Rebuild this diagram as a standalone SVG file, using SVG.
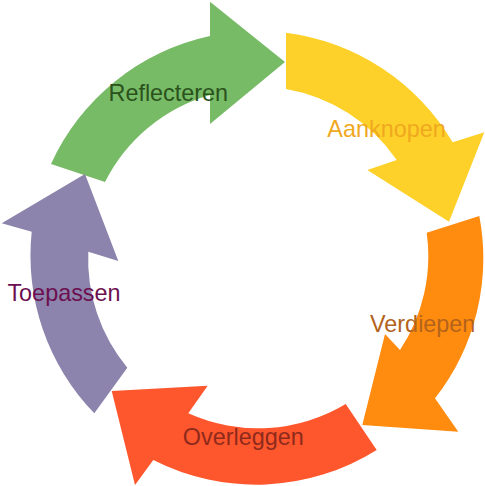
<svg xmlns="http://www.w3.org/2000/svg" width="485" height="486" viewBox="0 0 485 486">
<style>
.lbl{font-family:"Liberation Sans",Arial,sans-serif;font-size:23.4px;text-anchor:middle}
</style>
<rect width="485" height="486" fill="#ffffff"/>
<g id="node-reflecteren">
<path fill="#78BB67" d="M51,164 A227,227 0 0 1 210,36.1 L210,1.7 L285,62 L210,124 L210,94.9 A170,170 0 0 0 105,182 Z"/>
<text class="lbl" x="168.3" y="100.5" fill="#2A521C">Reflecteren</text>
</g>
<g id="node-aanknopen">
<path fill="#FDD12A" d="M286,32.7 A227,227 0 0 1 452.7,142.3 L484.3,132.3 L449,221.7 L367.3,170 L396.7,160 A170,170 0 0 0 286,89 Z"/>
<text class="lbl" x="386.5" y="136.5" fill="#F0A81E">Aanknopen</text>
</g>
<g id="node-verdiepen">
<path fill="#FF8B0F" d="M479.3,216 A227,227 0 0 1 435,398.3 L458.3,431.7 L362.3,425 L385,334 L400,350 A170,170 0 0 0 426.7,232.7 Z"/>
<text class="lbl" x="422.7" y="332" fill="#B3631C">Verdiepen</text>
</g>
<g id="node-overleggen">
<path fill="#FF572D" d="M376.7,450 A227,227 0 0 1 153.3,460 L135,485 L111.7,391 L207.7,385.7 L188.3,413.3 A170,170 0 0 0 345.7,404 Z"/>
<text class="lbl" x="243.3" y="444.5" fill="#8E2A1C">Overleggen</text>
</g>
<g id="node-toepassen">
<path fill="#8C84AC" d="M94.3,413.3 A227,227 0 0 1 31.7,231.7 L1.7,223.3 L85,174 L118.3,261 L88.3,251.7 A170,170 0 0 0 127.3,367.7 Z"/>
<text class="lbl" x="64" y="301" fill="#6C0F50">Toepassen</text>
</g>
</svg>
